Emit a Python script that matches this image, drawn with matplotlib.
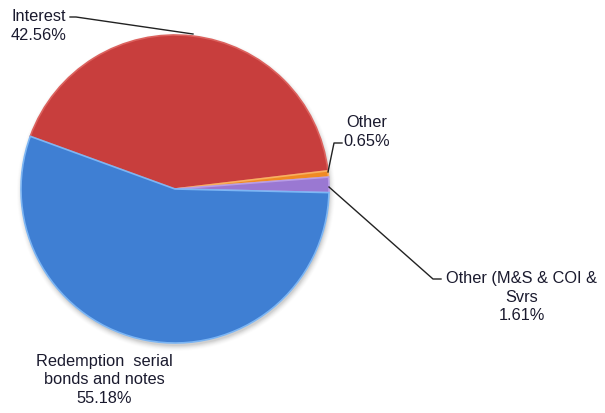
import matplotlib.pyplot as plt
import numpy as np

# Debt service breakdown
labels = ['Interest', 'Other', 'Other (M&S & COI &\nSvrs', 'Redemption  serial\nbonds and notes']
shares = [42.56, 0.65, 1.61, 55.18]
colors = ['#C83E3D', '#F08A24', '#9A78D2', '#3F7FD3']
edge_colors = ['#DC625E', '#F8B060', '#B89CE6', '#7DB6F4']

plt.rcParams['font.family'] = ['Liberation Sans', 'DejaVu Sans']

fig = plt.figure(figsize=(6.05, 4.13), dpi=100)
ax = fig.add_axes([0, 0, 1, 1])

cx, cy, r = 175, 413 - 189, 154

# soft drop shadow under the pie
for k, a in zip(range(6), np.linspace(0.05, 0.01, 6)):
    ax.add_patch(plt.Circle((cx + 1, cy - 3), r + k, color='k', alpha=a, lw=0, zorder=0))

wedges, _ = ax.pie(shares, colors=colors, startangle=160, counterclock=False,
                   center=(cx, cy), radius=r, frame=True,
                   wedgeprops=dict(linewidth=1.2))
for w, ec in zip(wedges, edge_colors):
    w.set_edgecolor(ec)
ax.set_xlim(0, 605)
ax.set_ylim(0, 413)
ax.set_aspect('equal')
ax.axis('off')

txt = '#1A1A2E'
fs = 11.8
lsp = 1.3

def pct(v):
    return f'{v:.2f}%'

# Interest
ax.text(39, 413 - 26, f'{labels[0]}\n{pct(shares[0])}', ha='center', va='center',
        fontsize=fs, color=txt, linespacing=lsp)
ax.plot([70, 76, 193], [413 - 17, 413 - 17, 413 - 34], color='#222222', lw=1)

# Other
ax.text(367, 413 - 132, f'{labels[1]}\n{pct(shares[1])}', ha='center', va='center',
        fontsize=fs, color=txt, linespacing=lsp)
ax.plot([342, 334, 328], [413 - 143, 413 - 143, 413 - 172], color='#222222', lw=1)

# Other (M&S & COI & Svrs)
ax.text(522, 413 - 297, f'{labels[2]}\n{pct(shares[2])}', ha='center', va='center',
        fontsize=fs, color=txt, linespacing=lsp)
ax.plot([329, 433, 441], [413 - 187, 413 - 279, 413 - 279], color='#222222', lw=1)

# Redemption serial bonds and notes
ax.text(104, 413 - 380, f'{labels[3]}\n{pct(shares[3])}', ha='center', va='center',
        fontsize=fs, color=txt, linespacing=lsp)

fig.savefig('out.png', dpi=100)
